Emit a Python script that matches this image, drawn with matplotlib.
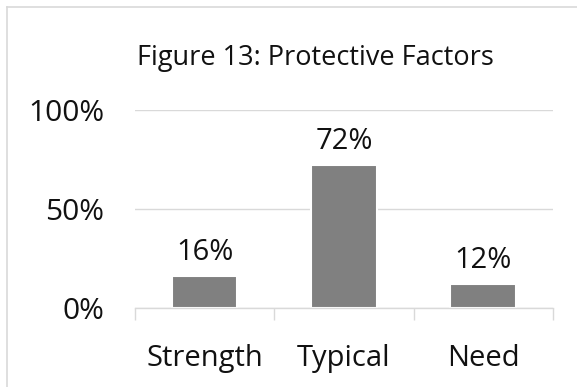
import matplotlib.pyplot as plt
from matplotlib.lines import Line2D

categories = ['Strength', 'Typical', 'Need']
shares = [0.16, 0.72, 0.12]
value_labels = ['16%', '72%', '12%']
yticks = [0, 0.5, 1.0]
ytick_labels = ['0%', '50%', '100%']

plt.rcParams['font.family'] = ['Open Sans', 'DejaVu Sans']

fig = plt.figure(figsize=(5.77, 3.87), dpi=100)
ax = fig.add_axes([0.234, 0.204, 0.724, 0.512])

grid_col = '#d9d9d9'
text_col = '#111111'
x = range(len(categories))

# bars with a thin white outline so gridlines break around them
ax.bar(x, shares, width=0.47, color='#808080', edgecolor='white',
       linewidth=1.5, zorder=3)

for xi, v, lab in zip(x, shares, value_labels):
    ax.annotate(lab, (xi, v), xytext=(0, 7), textcoords='offset points',
                ha='center', va='bottom', fontsize=21, color=text_col)

ax.set_xlim(-0.5, len(categories) - 0.5)
ax.set_ylim(0, 1.0)
ax.set_yticks(yticks)
ax.set_yticklabels(ytick_labels)
ax.set_xticks(list(x))
ax.set_xticklabels(categories)
ax.set_xticks([i - 0.5 for i in range(len(categories) + 1)], minor=True)

ax.tick_params(axis='y', length=0, pad=22, labelsize=21.5, labelcolor=text_col)
ax.tick_params(axis='x', which='major', length=0, pad=26, labelsize=21,
               labelcolor=text_col)
ax.tick_params(axis='x', which='minor', length=8.5, width=1, color=grid_col)

for side in ['top', 'right', 'left']:
    ax.spines[side].set_visible(False)
ax.spines['bottom'].set_color(grid_col)
ax.spines['bottom'].set_linewidth(1)
ax.spines['bottom'].set_zorder(4)

ax.yaxis.grid(True, color=grid_col, linewidth=1)
ax.set_axisbelow(True)

fig.text(0.547, 0.85, 'Figure 13: Protective Factors', ha='center',
         va='center', fontsize=19.5, color=text_col)

# chart frame (only top and left edges fall inside the image)
fig.add_artist(Line2D([0.012, 1.0], [0.982, 0.982], color=grid_col, lw=1.2))
fig.add_artist(Line2D([0.012, 0.012], [0.0, 0.982], color=grid_col, lw=1.2))

fig.savefig('out.png', dpi=100)
